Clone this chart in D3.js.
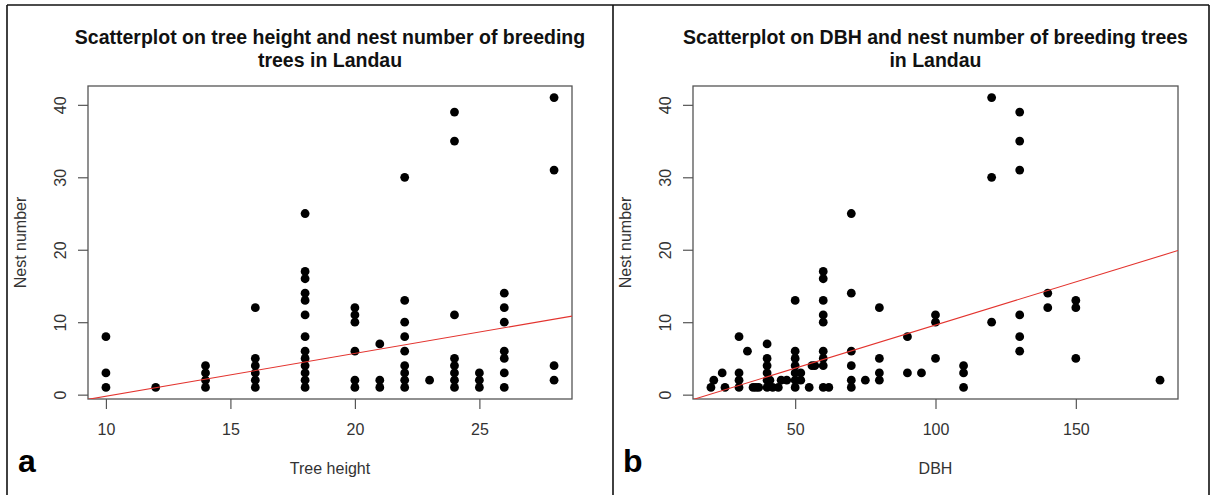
<!DOCTYPE html>
<html>
<head>
<meta charset="utf-8">
<script src="https://cdn.jsdelivr.net/npm/d3@7"></script>
<style>
  body { margin: 0; background: #fff; }
  svg { display: block; font-family: "Liberation Sans", Arial, sans-serif; }
</style>
</head>
<body>
<svg width="1211" height="495"></svg>
<script>
// panel a: tree height vs nest number
let treeHeight = [10, 10, 10, 12, 14, 14, 14, 14, 16, 16, 16, 16, 16, 16,
  18, 18, 18, 18, 18, 18, 18, 18, 18, 18, 18, 18, 18,
  20, 20, 20, 20, 20, 20, 21, 21, 21,
  22, 22, 22, 22, 22, 22, 22, 22, 22, 23,
  24, 24, 24, 24, 24, 24, 24, 24, 25, 25, 25,
  26, 26, 26, 26, 26, 26, 26, 28, 28, 28, 28];
let nestsA = [8, 3, 1, 1, 4, 3, 2, 1, 12, 5, 4, 3, 2, 1,
  25, 17, 16, 14, 13, 11, 8, 6, 5, 4, 3, 2, 1,
  12, 11, 10, 6, 2, 1, 7, 2, 1,
  30, 13, 10, 8, 6, 4, 3, 2, 1, 2,
  39, 35, 11, 5, 4, 3, 2, 1, 3, 2, 1,
  14, 12, 10, 6, 5, 3, 1, 41, 31, 4, 2];
let fitA = [-6.13, 0.591]; // intercept, slope (red line)

// panel b: DBH vs nest number
let dbh = [20, 21, 24, 25, 30, 30, 30, 30, 33, 35, 36, 37,
  40, 40, 40, 40, 40, 40, 41, 42, 44, 45, 47,
  50, 50, 50, 50, 50, 50, 50, 52, 52, 55, 56, 57,
  60, 60, 60, 60, 60, 60, 60, 60, 60, 62,
  70, 70, 70, 70, 70, 70, 75, 80, 80, 80, 80, 90, 90, 95,
  100, 100, 100, 110, 110, 110, 120, 120, 120,
  130, 130, 130, 130, 130, 130, 140, 140, 150, 150, 150, 180];
let nestsB = [1, 2, 3, 1, 8, 3, 2, 1, 6, 1, 1, 1,
  7, 5, 4, 3, 2, 1, 2, 1, 1, 2, 2,
  13, 6, 5, 4, 3, 2, 1, 3, 2, 1, 4, 4,
  17, 16, 13, 11, 10, 6, 5, 4, 1, 1,
  25, 14, 6, 4, 2, 1, 2, 12, 5, 3, 2, 8, 3, 3,
  11, 10, 5, 4, 3, 1, 41, 30, 10,
  39, 35, 31, 11, 8, 6, 14, 12, 13, 12, 5, 2];
let fitB = [-2.29, 0.119];

let xTicksA = [10, 15, 20, 25];
let xTicksB = [50, 100, 150];
let yTicks = [0, 10, 20, 30, 40];

let svg = d3.select("svg");

// outer frame
let frame = svg.append("g").attr("stroke", "#111").attr("stroke-width", 1.6);
frame.append("line").attr("x1", 7).attr("x2", 1209).attr("y1", 5).attr("y2", 5);
frame.append("line").attr("x1", 7).attr("x2", 7).attr("y1", 5).attr("y2", 495);
frame.append("line").attr("x1", 613).attr("x2", 613).attr("y1", 5).attr("y2", 495);
frame.append("line").attr("x1", 1209).attr("x2", 1209).attr("y1", 5).attr("y2", 495);

// R style range: data extent widened by 4%
let pad = (arr) => {
  let [lo, hi] = d3.extent(arr);
  let d = (hi - lo) * 0.04;
  return [lo - d, hi + d];
};

let yDomain = pad(nestsA.concat(nestsB));
let plotTop = 86, plotBottom = 399;

let drawPanel = (cfg) => {
  let g = svg.append("g");
  let xScale = d3.scaleLinear().domain(pad(cfg.xs)).range([cfg.left, cfg.right]);
  let yScale = d3.scaleLinear().domain(yDomain).range([plotBottom, plotTop]);

  g.append("clipPath").attr("id", cfg.id + "-clip")
    .append("rect")
    .attr("x", cfg.left).attr("y", plotTop)
    .attr("width", cfg.right - cfg.left).attr("height", plotBottom - plotTop);

  // axes
  let xAxis = d3.axisBottom(xScale).tickValues(cfg.xTicks).tickSize(10).tickPadding(15);
  let gx = g.append("g").attr("transform", `translate(0, ${plotBottom})`).call(xAxis);
  let yAxis = d3.axisLeft(yScale).tickValues(yTicks).tickSize(10);
  let gy = g.append("g").attr("transform", `translate(${cfg.left}, 0)`).call(yAxis);
  gy.selectAll("text")
    .attr("x", null).attr("dy", null)
    .attr("text-anchor", "middle")
    .attr("transform", "translate(-22, 0) rotate(-90)");
  [gx, gy].forEach((a) => {
    a.select(".domain").remove();
    a.selectAll("line").attr("stroke", "#555").attr("stroke-width", 1.2);
    a.selectAll("text").attr("font-size", 16).attr("fill", "#333")
      .attr("font-family", "Liberation Sans, Arial, sans-serif");
  });

  // box
  g.append("rect")
    .attr("x", cfg.left).attr("y", plotTop)
    .attr("width", cfg.right - cfg.left).attr("height", plotBottom - plotTop)
    .attr("fill", "none").attr("stroke", "#555").attr("stroke-width", 1.3);

  // points
  g.selectAll("circle")
    .data(cfg.xs.map((x, i) => [x, cfg.ys[i]]))
    .enter()
    .append("circle")
    .attr("cx", (d) => xScale(d[0]))
    .attr("cy", (d) => yScale(d[1]))
    .attr("r", 4.4)
    .attr("fill", "#000");

  // fitted line
  let [x0, x1] = xScale.domain();
  g.append("line")
    .attr("clip-path", `url(#${cfg.id}-clip)`)
    .attr("x1", xScale(x0)).attr("y1", yScale(cfg.fit[0] + cfg.fit[1] * x0))
    .attr("x2", xScale(x1)).attr("y2", yScale(cfg.fit[0] + cfg.fit[1] * x1))
    .attr("stroke", "#e3342f").attr("stroke-width", 1.1);

  let mid = (cfg.left + cfg.right) / 2;
  // title
  let title = g.append("text")
    .attr("text-anchor", "middle")
    .attr("font-size", 19.5).attr("font-weight", "bold").attr("fill", "#111");
  cfg.title.forEach((t, i) => {
    title.append("tspan").attr("x", mid).attr("y", 44 + i * 23).text(t);
  });

  // axis labels
  g.append("text")
    .attr("x", mid).attr("y", 474)
    .attr("text-anchor", "middle").attr("font-size", 16).attr("fill", "#333")
    .text(cfg.xLabel);
  g.append("text")
    .attr("transform", `translate(${cfg.left - 62}, ${(plotTop + plotBottom) / 2}) rotate(-90)`)
    .attr("text-anchor", "middle").attr("font-size", 16).attr("fill", "#333")
    .text("Nest number");

  // panel letter
  g.append("text")
    .attr("x", cfg.left - 70).attr("y", 472)
    .attr("font-size", 32).attr("font-weight", "bold").attr("fill", "#000")
    .text(cfg.letter);
};

drawPanel({
  id: "a", xs: treeHeight, ys: nestsA, fit: fitA, xTicks: xTicksA,
  left: 88, right: 572, letter: "a", xLabel: "Tree height",
  title: ["Scatterplot on tree height and nest number of breeding", "trees in Landau"]
});
drawPanel({
  id: "b", xs: dbh, ys: nestsB, fit: fitB, xTicks: xTicksB,
  left: 693, right: 1178, letter: "b", xLabel: "DBH",
  title: ["Scatterplot on DBH and nest number of breeding trees", "in Landau"]
});
</script>
</body>
</html>
